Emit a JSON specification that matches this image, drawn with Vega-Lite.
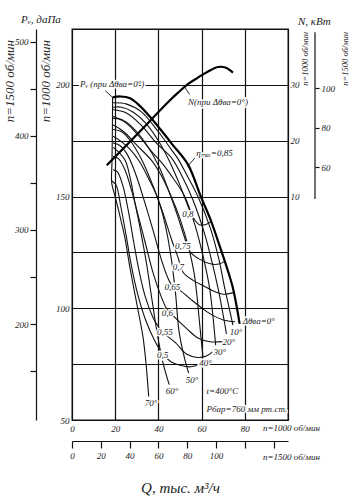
{
  "$schema": "https://vega.github.io/schema/vega-lite/v6.json",
  "width": 216,
  "height": 391,
  "autosize": {"type": "none"},
  "padding": {"left": 72, "top": 29, "right": 76, "bottom": 80},
  "background": "white",
  "config": {
    "view": {"stroke": "#111", "strokeWidth": 1.3},
    "font": "Liberation Serif",
    "axis": {"labelFont": "Liberation Serif", "labelFontStyle": "italic", "labelFontSize": 9, "labelColor": "#222", "titleFont": "Liberation Serif", "labelFlush": false}
  },
  "datasets": {
    "dt": [
      {"a": "10°", "i": 0, "Q": 19, "P": 192}, {"a": "10°", "i": 1, "Q": 25, "P": 191.5}, {"a": "10°", "i": 2, "Q": 32, "P": 188}, {"a": "10°", "i": 3, "Q": 40, "P": 179}, {"a": "10°", "i": 4, "Q": 46, "P": 171}, {"a": "10°", "i": 5, "Q": 49, "P": 167}, {"a": "10°", "i": 6, "Q": 53.5, "P": 159}, {"a": "10°", "i": 7, "Q": 58.3, "P": 150}, {"a": "10°", "i": 8, "Q": 64, "P": 136}, {"a": "10°", "i": 9, "Q": 68, "P": 122}, {"a": "10°", "i": 10, "Q": 70.7, "P": 109}, {"a": "10°", "i": 11, "Q": 72.8, "P": 100}, {"a": "10°", "i": 12, "Q": 74.5, "P": 92.5},
      {"a": "20°", "i": 0, "Q": 19, "P": 189}, {"a": "20°", "i": 1, "Q": 25, "P": 187.5}, {"a": "20°", "i": 2, "Q": 32, "P": 182}, {"a": "20°", "i": 3, "Q": 39, "P": 174}, {"a": "20°", "i": 4, "Q": 46.3, "P": 167}, {"a": "20°", "i": 5, "Q": 51, "P": 159}, {"a": "20°", "i": 6, "Q": 56, "P": 148.5}, {"a": "20°", "i": 7, "Q": 61.5, "P": 133}, {"a": "20°", "i": 8, "Q": 65, "P": 120}, {"a": "20°", "i": 9, "Q": 67.6, "P": 109}, {"a": "20°", "i": 10, "Q": 69.8, "P": 98}, {"a": "20°", "i": 11, "Q": 71.5, "P": 88.5},
      {"a": "30°", "i": 0, "Q": 19, "P": 186}, {"a": "30°", "i": 1, "Q": 25, "P": 183}, {"a": "30°", "i": 2, "Q": 31, "P": 177}, {"a": "30°", "i": 3, "Q": 37, "P": 170}, {"a": "30°", "i": 4, "Q": 41.7, "P": 165}, {"a": "30°", "i": 5, "Q": 47, "P": 158}, {"a": "30°", "i": 6, "Q": 52.2, "P": 150}, {"a": "30°", "i": 7, "Q": 57, "P": 137}, {"a": "30°", "i": 8, "Q": 61, "P": 122}, {"a": "30°", "i": 9, "Q": 63.7, "P": 109}, {"a": "30°", "i": 10, "Q": 65.3, "P": 96}, {"a": "30°", "i": 11, "Q": 66.5, "P": 83.5},
      {"a": "40°", "i": 0, "Q": 19, "P": 182}, {"a": "40°", "i": 1, "Q": 24, "P": 179}, {"a": "40°", "i": 2, "Q": 30, "P": 173}, {"a": "40°", "i": 3, "Q": 37, "P": 166}, {"a": "40°", "i": 4, "Q": 41, "P": 160}, {"a": "40°", "i": 5, "Q": 45.5, "P": 151}, {"a": "40°", "i": 6, "Q": 50, "P": 140}, {"a": "40°", "i": 7, "Q": 54, "P": 127}, {"a": "40°", "i": 8, "Q": 56.5, "P": 116}, {"a": "40°", "i": 9, "Q": 57.8, "P": 106}, {"a": "40°", "i": 10, "Q": 59, "P": 94}, {"a": "40°", "i": 11, "Q": 60.6, "P": 78.5},
      {"a": "50°", "i": 0, "Q": 19, "P": 177}, {"a": "50°", "i": 1, "Q": 23, "P": 174.5}, {"a": "50°", "i": 2, "Q": 27, "P": 171}, {"a": "50°", "i": 3, "Q": 31, "P": 166}, {"a": "50°", "i": 4, "Q": 35.5, "P": 158}, {"a": "50°", "i": 5, "Q": 39.4, "P": 150}, {"a": "50°", "i": 6, "Q": 43, "P": 138}, {"a": "50°", "i": 7, "Q": 46, "P": 122}, {"a": "50°", "i": 8, "Q": 48, "P": 106}, {"a": "50°", "i": 9, "Q": 49.5, "P": 90}, {"a": "50°", "i": 10, "Q": 52, "P": 78}, {"a": "50°", "i": 11, "Q": 54, "P": 71},
      {"a": "60°", "i": 0, "Q": 19, "P": 172}, {"a": "60°", "i": 1, "Q": 21.5, "P": 170}, {"a": "60°", "i": 2, "Q": 24.7, "P": 166}, {"a": "60°", "i": 3, "Q": 27, "P": 158}, {"a": "60°", "i": 4, "Q": 29, "P": 148}, {"a": "60°", "i": 5, "Q": 31.5, "P": 136}, {"a": "60°", "i": 6, "Q": 34.5, "P": 120}, {"a": "60°", "i": 7, "Q": 37, "P": 104}, {"a": "60°", "i": 8, "Q": 39.4, "P": 89}, {"a": "60°", "i": 9, "Q": 42, "P": 76}, {"a": "60°", "i": 10, "Q": 45, "P": 65.8},
      {"a": "70°", "i": 0, "Q": 18.8, "P": 194.4}, {"a": "70°", "i": 1, "Q": 18.7, "P": 180}, {"a": "70°", "i": 2, "Q": 18.5, "P": 165}, {"a": "70°", "i": 3, "Q": 18.4, "P": 156}, {"a": "70°", "i": 4, "Q": 20, "P": 150}, {"a": "70°", "i": 5, "Q": 22.5, "P": 140}, {"a": "70°", "i": 6, "Q": 24.5, "P": 131.5}, {"a": "70°", "i": 7, "Q": 26.5, "P": 120}, {"a": "70°", "i": 8, "Q": 28.6, "P": 109}, {"a": "70°", "i": 9, "Q": 30.8, "P": 98}, {"a": "70°", "i": 10, "Q": 32.9, "P": 87}, {"a": "70°", "i": 11, "Q": 34.3, "P": 75}, {"a": "70°", "i": 12, "Q": 35.5, "P": 60.5}
    ],
    "eta": [
      {"e": "0,8", "i": 0, "Q": 19, "P": 190}, {"e": "0,8", "i": 1, "Q": 23, "P": 190}, {"e": "0,8", "i": 2, "Q": 28, "P": 188}, {"e": "0,8", "i": 3, "Q": 34, "P": 183}, {"e": "0,8", "i": 4, "Q": 40, "P": 175}, {"e": "0,8", "i": 5, "Q": 45, "P": 166}, {"e": "0,8", "i": 6, "Q": 50, "P": 155}, {"e": "0,8", "i": 7, "Q": 54, "P": 145}, {"e": "0,8", "i": 8, "Q": 56.5, "P": 140}, {"e": "0,8", "i": 9, "Q": 59, "P": 137.4}, {"e": "0,8", "i": 10, "Q": 62, "P": 137.5}, {"e": "0,8", "i": 11, "Q": 64.5, "P": 139},
      {"e": "0,75", "i": 0, "Q": 19, "P": 185}, {"e": "0,75", "i": 1, "Q": 23, "P": 184.5}, {"e": "0,75", "i": 2, "Q": 28, "P": 181}, {"e": "0,75", "i": 3, "Q": 34, "P": 174}, {"e": "0,75", "i": 4, "Q": 40, "P": 164}, {"e": "0,75", "i": 5, "Q": 45, "P": 152}, {"e": "0,75", "i": 6, "Q": 49, "P": 141}, {"e": "0,75", "i": 7, "Q": 52, "P": 132}, {"e": "0,75", "i": 8, "Q": 54.5, "P": 125.5}, {"e": "0,75", "i": 9, "Q": 59, "P": 122}, {"e": "0,75", "i": 10, "Q": 64.5, "P": 119.8}, {"e": "0,75", "i": 11, "Q": 68, "P": 119.8}, {"e": "0,75", "i": 12, "Q": 70.7, "P": 121},
      {"e": "0,7", "i": 0, "Q": 19, "P": 180}, {"e": "0,7", "i": 1, "Q": 23, "P": 179}, {"e": "0,7", "i": 2, "Q": 27, "P": 175}, {"e": "0,7", "i": 3, "Q": 32, "P": 167}, {"e": "0,7", "i": 4, "Q": 37, "P": 156}, {"e": "0,7", "i": 5, "Q": 42, "P": 143}, {"e": "0,7", "i": 6, "Q": 46, "P": 131}, {"e": "0,7", "i": 7, "Q": 49, "P": 123}, {"e": "0,7", "i": 8, "Q": 51.5, "P": 116}, {"e": "0,7", "i": 9, "Q": 56, "P": 112.5}, {"e": "0,7", "i": 10, "Q": 61.4, "P": 109.8}, {"e": "0,7", "i": 11, "Q": 66, "P": 107.5}, {"e": "0,7", "i": 12, "Q": 70, "P": 106.3}, {"e": "0,7", "i": 13, "Q": 74.7, "P": 107},
      {"e": "0,65", "i": 0, "Q": 19, "P": 174}, {"e": "0,65", "i": 1, "Q": 22, "P": 173}, {"e": "0,65", "i": 2, "Q": 25.5, "P": 169}, {"e": "0,65", "i": 3, "Q": 29.5, "P": 160}, {"e": "0,65", "i": 4, "Q": 33.5, "P": 148}, {"e": "0,65", "i": 5, "Q": 37.5, "P": 135}, {"e": "0,65", "i": 6, "Q": 41, "P": 123}, {"e": "0,65", "i": 7, "Q": 44, "P": 114.5}, {"e": "0,65", "i": 8, "Q": 46.5, "P": 110}, {"e": "0,65", "i": 9, "Q": 50, "P": 108}, {"e": "0,65", "i": 10, "Q": 55, "P": 104}, {"e": "0,65", "i": 11, "Q": 59.3, "P": 100.7}, {"e": "0,65", "i": 12, "Q": 64, "P": 97.5}, {"e": "0,65", "i": 13, "Q": 70, "P": 94.8}, {"e": "0,65", "i": 14, "Q": 75.5, "P": 94},
      {"e": "0,6", "i": 0, "Q": 19, "P": 168}, {"e": "0,6", "i": 1, "Q": 21.5, "P": 167}, {"e": "0,6", "i": 2, "Q": 24.5, "P": 162}, {"e": "0,6", "i": 3, "Q": 27.5, "P": 153}, {"e": "0,6", "i": 4, "Q": 30.5, "P": 142}, {"e": "0,6", "i": 5, "Q": 34, "P": 129}, {"e": "0,6", "i": 6, "Q": 37.5, "P": 116}, {"e": "0,6", "i": 7, "Q": 41, "P": 106}, {"e": "0,6", "i": 8, "Q": 44, "P": 99.5}, {"e": "0,6", "i": 9, "Q": 47, "P": 96.5}, {"e": "0,6", "i": 10, "Q": 53, "P": 91}, {"e": "0,6", "i": 11, "Q": 58.3, "P": 86.7}, {"e": "0,6", "i": 12, "Q": 64, "P": 85}, {"e": "0,6", "i": 13, "Q": 70.7, "P": 85.2},
      {"e": "0,55", "i": 0, "Q": 19, "P": 162}, {"e": "0,55", "i": 1, "Q": 21, "P": 161}, {"e": "0,55", "i": 2, "Q": 23.5, "P": 155}, {"e": "0,55", "i": 3, "Q": 26, "P": 144}, {"e": "0,55", "i": 4, "Q": 28.5, "P": 130}, {"e": "0,55", "i": 5, "Q": 31, "P": 117}, {"e": "0,55", "i": 6, "Q": 34, "P": 105}, {"e": "0,55", "i": 7, "Q": 38.5, "P": 94}, {"e": "0,55", "i": 8, "Q": 43, "P": 88.5}, {"e": "0,55", "i": 9, "Q": 48, "P": 84.5}, {"e": "0,55", "i": 10, "Q": 53, "P": 79.5}, {"e": "0,55", "i": 11, "Q": 58, "P": 78}, {"e": "0,55", "i": 12, "Q": 62, "P": 78.5}, {"e": "0,55", "i": 13, "Q": 65, "P": 80.5},
      {"e": "0,5", "i": 0, "Q": 18.5, "P": 157}, {"e": "0,5", "i": 1, "Q": 20.5, "P": 155}, {"e": "0,5", "i": 2, "Q": 22.5, "P": 146}, {"e": "0,5", "i": 3, "Q": 25, "P": 133}, {"e": "0,5", "i": 4, "Q": 27.5, "P": 119}, {"e": "0,5", "i": 5, "Q": 30.5, "P": 106}, {"e": "0,5", "i": 6, "Q": 34, "P": 95}, {"e": "0,5", "i": 7, "Q": 38, "P": 86}, {"e": "0,5", "i": 8, "Q": 42, "P": 79.5}, {"e": "0,5", "i": 9, "Q": 46, "P": 76}, {"e": "0,5", "i": 10, "Q": 50, "P": 74.5}, {"e": "0,5", "i": 11, "Q": 55, "P": 73.8}, {"e": "0,5", "i": 12, "Q": 58.5, "P": 74.8}, {"e": "0,5", "i": 13, "Q": 60.5, "P": 76.5}
    ],
    "pv": [
      {"i": 0, "Q": 18.8, "P": 194.4}, {"i": 1, "Q": 22.5, "P": 194.8}, {"i": 2, "Q": 26.9, "P": 194}, {"i": 3, "Q": 31.5, "P": 190.5}, {"i": 4, "Q": 36.3, "P": 185.5}, {"i": 5, "Q": 41, "P": 180}, {"i": 6, "Q": 46.3, "P": 173.5}, {"i": 7, "Q": 53.7, "P": 164.3}, {"i": 8, "Q": 59.9, "P": 149.4}, {"i": 9, "Q": 64, "P": 140}, {"i": 10, "Q": 67.6, "P": 130.1}, {"i": 11, "Q": 72.2, "P": 116.7}, {"i": 12, "Q": 74.5, "P": 109.1}, {"i": 13, "Q": 76.2, "P": 101}, {"i": 14, "Q": 77.6, "P": 93}
    ],
    "power": [
      {"Q": 16.1, "N": 15.6}, {"Q": 25, "N": 19.1}, {"Q": 35, "N": 23.1}, {"Q": 45, "N": 27.1}, {"Q": 49.1, "N": 28.6}, {"Q": 53.5, "N": 30.1}, {"Q": 58.3, "N": 31.3}, {"Q": 63, "N": 32.4}, {"Q": 67.6, "N": 33.2}, {"Q": 71, "N": 33.1}, {"Q": 74.5, "N": 32.2}
    ],
    "leaders": [
      {"k": "pv", "i": 0, "Q": 15.4, "P": 197.4}, {"k": "pv", "i": 1, "Q": 18.8, "P": 194.4},
      {"k": "n", "i": 0, "Q": 54.5, "P": 195.6}, {"k": "n", "i": 1, "Q": 52.2, "P": 199},
      {"k": "eta", "i": 0, "Q": 56.9, "P": 167.3}, {"k": "eta", "i": 1, "Q": 53.5, "P": 163.5}
    ],
    "clabels": [
      {"t": "0,8", "Q": 53.7, "P": 142}, {"t": "0,75", "Q": 51.3, "P": 127.8}, {"t": "0,7", "Q": 49.2, "P": 118.3}, {"t": "0,65", "Q": 46.5, "P": 109.5}, {"t": "0,6", "Q": 44.2, "P": 97.8}, {"t": "0,55", "Q": 43, "P": 89.3}, {"t": "0,5", "Q": 41.9, "P": 79.3},
      {"t": "10°", "Q": 75.9, "P": 89.3}, {"t": "20°", "Q": 72.6, "P": 85}, {"t": "30°", "Q": 68.4, "P": 80.3}, {"t": "40°", "Q": 61.8, "P": 75.3}, {"t": "50°", "Q": 55.6, "P": 68}, {"t": "60°", "Q": 46.3, "P": 62.8}, {"t": "70°", "Q": 36.6, "P": 57.6}
    ],
    "llabels": [
      {"t": "Pᵥ (при Δθва=0°)", "Q": 3.7, "P": 200.2}, {"t": "N(при Δθва=0°)", "Q": 53.7, "P": 192.2}, {"t": "ηₘₐₓ=0,85", "Q": 57.5, "P": 169.5}, {"t": "Δθва=0°", "Q": 79, "P": 94.3}, {"t": "t=400°C", "Q": 62.3, "P": 63.2}, {"t": "Pбар=760 мм рт.ст.", "Q": 62.3, "P": 55}
    ],
    "olabels": [
      {"t": "n=1000 об/мин", "Q": 88.4, "P": 46.4}, {"t": "n=1500 об/мин", "Q": 88.4, "P": 33.4}
    ],
    "tlabels": [
      {"t": "Pᵥ, даПа", "Q": -23.6, "P": 229}, {"t": "N, кВт", "Q": 104.6, "P": 228}
    ],
    "rbig": [
      {"t": "n=1500 об/мин", "Q": -28.7, "P": 220.1}, {"t": "n=1000 об/мин", "Q": -12, "P": 220.1}
    ],
    "rsmall": [
      {"t": "n=1000 об/мин", "Q": 107.9, "P": 223.7}, {"t": "n=1500 об/мин", "Q": 126.4, "P": 223.7}
    ]
  },
  "resolve": {"scale": {"x": "independent", "y": "independent"}, "axis": {"x": "independent", "y": "independent"}},
  "layer": [
    {
      "data": {"name": "dt"},
      "mark": {"type": "line", "stroke": "#111", "strokeWidth": 1.1, "interpolate": "catmull-rom"},
      "encoding": {
        "x": {"field": "Q", "type": "quantitative", "scale": {"domain": [0, 100], "nice": false, "zero": false},
              "axis": {"orient": "bottom", "values": [0, 20, 40, 60, 80, 100], "labelExpr": "datum.value < 100 ? datum.label : ''", "grid": true, "gridColor": "#111", "gridWidth": 1.2, "ticks": false, "domain": false, "title": null, "labelPadding": 4}},
        "y": {"field": "P", "type": "quantitative", "scale": {"domain": [50, 225], "nice": false, "zero": false},
              "axis": {"orient": "left", "values": [50, 75, 100, 125, 150, 175, 200, 225], "labelExpr": "datum.value % 50 == 0 && datum.value < 225 ? datum.label : ''", "grid": true, "gridColor": "#111", "gridWidth": 1.2, "ticks": false, "domain": false, "title": null, "labelPadding": 3}},
        "detail": {"field": "a"},
        "order": {"field": "i"}
      }
    },
    {
      "data": {"name": "eta"},
      "mark": {"type": "line", "stroke": "#111", "strokeWidth": 1.1, "interpolate": "catmull-rom"},
      "encoding": {
        "x": {"field": "Q", "type": "quantitative", "scale": {"domain": [0, 100], "nice": false, "zero": false}, "axis": null},
        "y": {"field": "P", "type": "quantitative", "scale": {"domain": [50, 225], "nice": false, "zero": false}, "axis": null},
        "detail": {"field": "e"},
        "order": {"field": "i"}
      }
    },
    {
      "data": {"name": "pv"},
      "mark": {"type": "line", "stroke": "#000", "strokeWidth": 2.2, "interpolate": "catmull-rom"},
      "encoding": {
        "x": {"field": "Q", "type": "quantitative", "scale": {"domain": [0, 100], "nice": false, "zero": false}, "axis": null},
        "y": {"field": "P", "type": "quantitative", "scale": {"domain": [50, 225], "nice": false, "zero": false}, "axis": null},
        "order": {"field": "i"}
      }
    },
    {
      "data": {"name": "power"},
      "mark": {"type": "line", "stroke": "#000", "strokeWidth": 2.2, "interpolate": "catmull-rom"},
      "encoding": {
        "x": {"field": "Q", "type": "quantitative", "scale": {"domain": [0, 100], "nice": false, "zero": false}, "axis": null},
        "y": {"field": "N", "type": "quantitative", "scale": {"domain": [-30, 40], "nice": false, "zero": false},
              "axis": {"orient": "right", "values": [10, 20, 30], "ticks": false, "domain": false, "grid": false, "title": null, "labelPadding": 2}}
      }
    },
    {
      "data": {"name": "leaders"},
      "mark": {"type": "line", "stroke": "#111", "strokeWidth": 0.9},
      "encoding": {
        "x": {"field": "Q", "type": "quantitative", "scale": {"domain": [0, 100], "nice": false, "zero": false}, "axis": null},
        "y": {"field": "P", "type": "quantitative", "scale": {"domain": [50, 225], "nice": false, "zero": false}, "axis": null},
        "detail": {"field": "k"},
        "order": {"field": "i"}
      }
    },
    {
      "data": {"name": "clabels"},
      "mark": {"type": "text", "fill": "white", "stroke": "white", "strokeWidth": 3, "font": "Liberation Serif", "fontStyle": "italic", "fontSize": 9, "align": "center", "baseline": "middle"},
      "encoding": {
        "x": {"field": "Q", "type": "quantitative", "scale": {"domain": [0, 100], "nice": false, "zero": false}, "axis": null},
        "y": {"field": "P", "type": "quantitative", "scale": {"domain": [50, 225], "nice": false, "zero": false}, "axis": null},
        "text": {"field": "t"}
      }
    },
    {
      "data": {"name": "clabels"},
      "mark": {"type": "text", "fill": "#222", "font": "Liberation Serif", "fontStyle": "italic", "fontSize": 9, "align": "center", "baseline": "middle"},
      "encoding": {
        "x": {"field": "Q", "type": "quantitative", "scale": {"domain": [0, 100], "nice": false, "zero": false}, "axis": null},
        "y": {"field": "P", "type": "quantitative", "scale": {"domain": [50, 225], "nice": false, "zero": false}, "axis": null},
        "text": {"field": "t"}
      }
    },
    {
      "data": {"name": "llabels"},
      "mark": {"type": "text", "fill": "white", "stroke": "white", "strokeWidth": 3, "font": "Liberation Serif", "fontStyle": "italic", "fontSize": 9, "align": "left", "baseline": "middle"},
      "encoding": {
        "x": {"field": "Q", "type": "quantitative", "scale": {"domain": [0, 100], "nice": false, "zero": false}, "axis": null},
        "y": {"field": "P", "type": "quantitative", "scale": {"domain": [50, 225], "nice": false, "zero": false}, "axis": null},
        "text": {"field": "t"}
      }
    },
    {
      "data": {"name": "llabels"},
      "mark": {"type": "text", "fill": "#222", "font": "Liberation Serif", "fontStyle": "italic", "fontSize": 9, "align": "left", "baseline": "middle"},
      "encoding": {
        "x": {"field": "Q", "type": "quantitative", "scale": {"domain": [0, 100], "nice": false, "zero": false}, "axis": null},
        "y": {"field": "P", "type": "quantitative", "scale": {"domain": [50, 225], "nice": false, "zero": false}, "axis": null},
        "text": {"field": "t"}
      }
    },
    {
      "data": {"name": "olabels"},
      "mark": {"type": "text", "fill": "#222", "font": "Liberation Serif", "fontStyle": "italic", "fontSize": 9, "align": "left", "baseline": "middle"},
      "encoding": {
        "x": {"field": "Q", "type": "quantitative", "scale": {"domain": [0, 100], "nice": false, "zero": false}, "axis": null},
        "y": {"field": "P", "type": "quantitative", "scale": {"domain": [50, 225], "nice": false, "zero": false}, "axis": null},
        "text": {"field": "t"}
      }
    },
    {
      "data": {"name": "tlabels"},
      "mark": {"type": "text", "fill": "#222", "font": "Liberation Serif", "fontStyle": "italic", "fontSize": 11, "align": "left", "baseline": "middle"},
      "encoding": {
        "x": {"field": "Q", "type": "quantitative", "scale": {"domain": [0, 100], "nice": false, "zero": false}, "axis": null},
        "y": {"field": "P", "type": "quantitative", "scale": {"domain": [50, 225], "nice": false, "zero": false}, "axis": null},
        "text": {"field": "t"}
      }
    },
    {
      "data": {"name": "rbig"},
      "mark": {"type": "text", "fill": "#222", "font": "Liberation Serif", "fontStyle": "italic", "fontSize": 13, "align": "right", "baseline": "middle", "angle": 270},
      "encoding": {
        "x": {"field": "Q", "type": "quantitative", "scale": {"domain": [0, 100], "nice": false, "zero": false}, "axis": null},
        "y": {"field": "P", "type": "quantitative", "scale": {"domain": [50, 225], "nice": false, "zero": false}, "axis": null},
        "text": {"field": "t"}
      }
    },
    {
      "data": {"name": "rsmall"},
      "mark": {"type": "text", "fill": "#222", "font": "Liberation Serif", "fontStyle": "italic", "fontSize": 8.5, "align": "right", "baseline": "middle", "angle": 270},
      "encoding": {
        "x": {"field": "Q", "type": "quantitative", "scale": {"domain": [0, 100], "nice": false, "zero": false}, "axis": null},
        "y": {"field": "P", "type": "quantitative", "scale": {"domain": [50, 225], "nice": false, "zero": false}, "axis": null},
        "text": {"field": "t"}
      }
    },
    {
      "data": {"values": [{"q": 0}]},
      "mark": {"type": "point", "opacity": 0},
      "encoding": {
        "x": {"field": "q", "type": "quantitative", "scale": {"domain": [0, 150], "nice": false, "zero": false},
              "axis": {"orient": "bottom", "offset": 21, "values": [0, 20, 40, 60, 80, 100, 120, 140], "labelExpr": "datum.value <= 100 ? datum.label : ''", "tickSize": 7, "tickColor": "#111", "tickWidth": 1.2, "domainColor": "#111", "domainWidth": 1.2, "labelPadding": 3, "grid": false, "title": "Q, тыс. м³/ч", "titleFontSize": 15, "titleFontStyle": "italic", "titleFontWeight": "normal", "titleColor": "#222", "titlePadding": 20}}
      }
    },
    {
      "data": {"values": [{"p": 100}]},
      "mark": {"type": "point", "opacity": 0},
      "encoding": {
        "y": {"field": "p", "type": "quantitative", "scale": {"domain": [97.9, 513.8], "nice": false, "zero": false},
              "axis": {"orient": "left", "offset": 36, "values": [150, 200, 250, 300, 350, 400, 450, 500], "labelExpr": "datum.value % 100 == 0 ? datum.label : ''", "tickSize": 6, "tickColor": "#111", "tickWidth": 1.2, "domainColor": "#111", "domainWidth": 1.2, "labelPadding": 2, "grid": false, "title": null}}
      }
    },
    {
      "data": {"values": [{"lo": 43.8, "hi": 128.2}]},
      "mark": {"type": "rule", "stroke": "#111", "strokeWidth": 1.2},
      "encoding": {
        "x": {"datum": 112.5, "type": "quantitative", "scale": {"domain": [0, 100], "nice": false, "zero": false}, "axis": null},
        "y": {"field": "lo", "type": "quantitative", "scale": {"domain": [-68.1, 129.9], "nice": false, "zero": false},
              "axis": {"orient": "right", "offset": 27, "values": [60, 80, 100], "domain": false, "tickSize": 4, "tickColor": "#111", "tickWidth": 1.2, "labelPadding": 2, "grid": false, "title": null}},
        "y2": {"field": "hi"}
      }
    }
  ]
}
